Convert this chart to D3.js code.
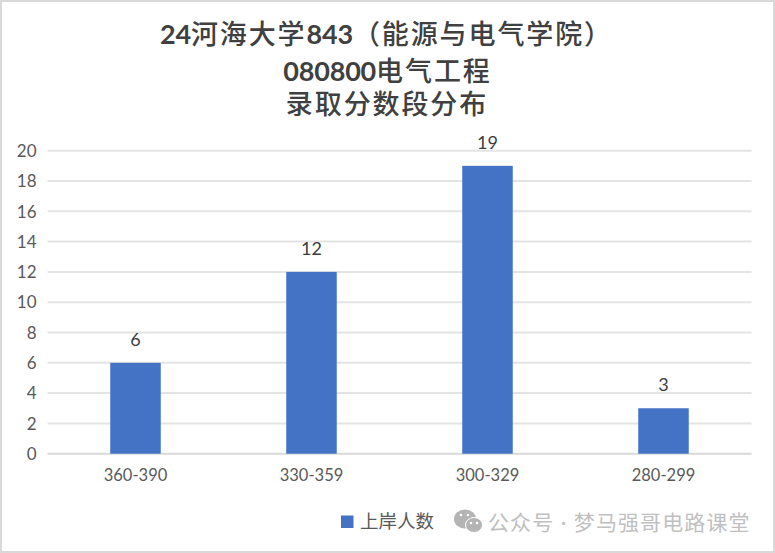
<!DOCTYPE html>
<html><head><meta charset="utf-8">
<script src="https://cdn.jsdelivr.net/npm/d3@7"></script>
<style>
html,body{margin:0;padding:0;background:#fff}
svg{display:block}
text{font-family:Lato,"Noto Sans CJK SC",sans-serif}
</style></head><body>
<svg id="c" width="775" height="553"></svg>
<script>
const categories=["360-390","330-359","300-329","280-299"];
const seriesValues=[6,12,19,3];
const yTicks=[0,2,4,6,8,10,12,14,16,18,20];
const seriesName="上岸人数";
const titleLines=[
 [["24",1],["河海大学",0],["843",1],["（能源与电气学院）",0]],
 [["080800",1],["电气工程",0]],
 [["录取分数段分布",0]]
];
const watermark="公众号 · 梦马强哥电路课堂";

const svg=d3.select("#c");
svg.append("rect").attr("x",1).attr("y",1).attr("width",773).attr("height",551)
  .attr("fill","#fff").attr("stroke","#d9d9d9").attr("stroke-width",2);

const x=d3.scaleBand().domain(categories).range([47.5,751.5]).paddingInner(0).paddingOuter(0);
const y=d3.scaleLinear().domain([0,20]).range([453.7,150.7]);
const barW=50.5;

const gy=svg.append("g").attr("transform","translate(47.5,0)")
  .call(d3.axisLeft(y).tickValues(yTicks).tickSize(0).tickPadding(11).tickFormat(d3.format("d")));
gy.select(".domain").remove();
gy.selectAll("text").attr("font-size",17).attr("fill","#595959").attr("dy","0.34em")
  .style("font-family",'Lato,"Noto Sans CJK SC",sans-serif');

svg.append("g").selectAll("line").data(yTicks).join("line")
  .attr("x1",47.5).attr("x2",751.5).attr("y1",d=>y(d)).attr("y2",d=>y(d))
  .attr("stroke",d=>d===0?"#d9d9d9":"#e4e4e4").attr("stroke-width",2);

const cx=c=>x(c)+x.bandwidth()/2;
svg.append("g").selectAll("rect").data(categories).join("rect")
  .attr("x",c=>cx(c)-barW/2).attr("width",barW)
  .attr("y",(c,i)=>y(seriesValues[i])).attr("height",(c,i)=>y(0)-y(seriesValues[i]))
  .attr("fill","#4472c4");

svg.append("g").selectAll("text").data(categories).join("text")
  .attr("x",cx).attr("y",(c,i)=>y(seriesValues[i])-23)
  .attr("dy","0.34em").attr("text-anchor","middle").attr("font-size",18).attr("fill","#404040")
  .text((c,i)=>seriesValues[i]);

const gx=svg.append("g").attr("transform","translate(0,453.5)")
  .call(d3.axisBottom(x).tickSize(0).tickPadding(16));
gx.select(".domain").remove();
gx.selectAll("text").attr("font-size",16.5).attr("fill","#595959")
  .style("font-family",'Lato,"Noto Sans CJK SC",sans-serif');

const baselines=[44,81,114];
const titleX=[386.5,387.5,387];
titleLines.forEach((ln,i)=>{
  const t=svg.append("text").attr("x",titleX[i]).attr("y",baselines[i]).attr("text-anchor","middle")
    .attr("font-size",27).attr("fill","#404040");
  ln.forEach(([s,b])=>t.append("tspan")
    .attr("font-weight",b?700:500).attr("letter-spacing",b?-0.2:1.9).text(s));
});

svg.append("rect").attr("x",341).attr("y",515.5).attr("width",12.5).attr("height",12.5).attr("fill","#4472c4");
svg.append("text").attr("x",360).attr("y",528).attr("font-size",18.5).attr("fill","#595959").text(seriesName);

const wc=svg.append("g");
wc.append("ellipse").attr("cx",465).attr("cy",519).attr("rx",11).attr("ry",9.5).attr("fill","#b4b4b4");
wc.append("ellipse").attr("cx",474).attr("cy",525).attr("rx",8.5).attr("ry",7.5).attr("fill","#b4b4b4").attr("stroke","#fff").attr("stroke-width",1);
wc.selectAll("circle").data([[461,515],[468,515],[471,523],[477,523]]).join("circle")
  .attr("cx",d=>d[0]).attr("cy",d=>d[1]).attr("r",1.3).attr("fill","#fff");
svg.append("text").attr("x",488).attr("y",530).attr("font-size",21).attr("letter-spacing",1.1)
  .attr("fill","#c0c0c0").text(watermark);
</script></body></html>
